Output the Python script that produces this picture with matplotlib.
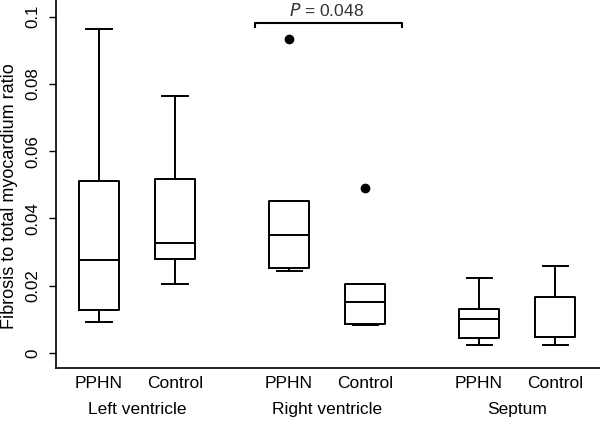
import matplotlib
matplotlib.use("Agg")
import matplotlib.pyplot as plt
from matplotlib.transforms import blended_transform_factory

plt.rcParams['font.family'] = ['Liberation Sans', 'DejaVu Sans']

# box positions and labels
positions = [1, 2, 3.5, 4.5, 6, 7]
tick_labels = ["PPHN", "Control", "PPHN", "Control", "PPHN", "Control"]
group_names = ["Left ventricle", "Right ventricle", "Septum"]
group_centers = [1.5, 4.0, 6.5]

# box statistics
whislo = [0.0092, 0.0205, 0.0245, 0.0082, 0.0024, 0.0024]
q1 = [0.0128, 0.0280, 0.0253, 0.0086, 0.0044, 0.0047]
med = [0.0277, 0.0327, 0.0351, 0.0151, 0.0101, 0.0048]
q3 = [0.0512, 0.0518, 0.0451, 0.0204, 0.0129, 0.0166]
whishi = [0.0964, 0.0765, 0.0451, 0.0204, 0.0223, 0.0259]
fliers = [[], [], [0.0934], [0.0492], [], []]

p_text = "= 0.048"

stats = []
for i in range(len(positions)):
    stats.append(dict(whislo=whislo[i], q1=q1[i], med=med[i], q3=q3[i],
                      whishi=whishi[i], fliers=fliers[i]))

fig = plt.figure(figsize=(6.0, 4.21), dpi=100)
ax = fig.add_axes([0.0933, 0.126, 0.9067, 0.874])

lw = 1.4
ax.bxp(stats, positions=positions, widths=0.53, showfliers=True,
       boxprops=dict(color="black", linewidth=lw),
       medianprops=dict(color="black", linewidth=lw),
       whiskerprops=dict(color="black", linewidth=lw),
       capprops=dict(color="black", linewidth=lw),
       flierprops=dict(marker="o", markerfacecolor="black", markeredgecolor="black",
                       markersize=6, linestyle="none"),
       capwidths=0.33)

ax.set_xlim(0.434, 7.59)
ax.set_ylim(-0.0045, 0.105)

ax.spines["top"].set_visible(False)
ax.spines["right"].set_visible(False)
for s in ["left", "bottom"]:
    ax.spines[s].set_linewidth(1.2)

ax.set_yticks([0, 0.02, 0.04, 0.06, 0.08, 0.1])
ax.set_yticklabels(["0", "0.02", "0.04", "0.06", "0.08", "0.1"], rotation=90, va="center")
ax.tick_params(axis="y", length=5, width=1.0, pad=6, labelsize=12.2)

ax.set_xticks(positions)
ax.set_xticklabels(tick_labels)
ax.tick_params(axis="x", length=0, pad=6, labelsize=12.5)

trans = blended_transform_factory(ax.transData, ax.transAxes)
for name, c in zip(group_names, group_centers):
    ax.text(c, -0.114, name, transform=trans, ha="center", va="center", fontsize=12.5)

fig.text(10 / 600, 0.534, "Fibrosis to total myocardium ratio", rotation=90,
         ha="center", va="center", fontsize=13)

# significance bracket
bx0, bx1, by, bdrop = 3.05, 4.98, 0.0983, 0.0013
ax.plot([bx0, bx0, bx1, bx1], [by - bdrop, by, by, by - bdrop], color="black",
        linewidth=1.5, clip_on=False)
ax.text((bx0 + bx1) / 2 - 0.02, by + 0.0009, "$\\it{P}$ " + p_text, ha="center", va="bottom",
        fontsize=12.5, color="#333333")

fig.savefig("out.png", dpi=100)
